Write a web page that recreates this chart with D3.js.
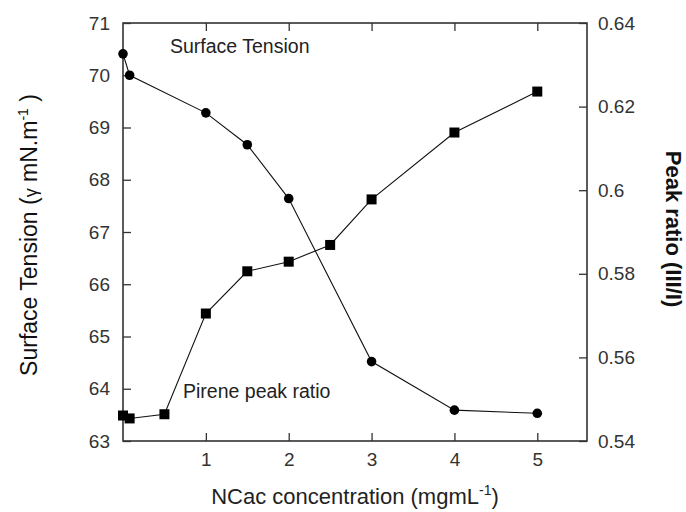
<!DOCTYPE html>
<html>
<head>
<meta charset="utf-8">
<script src="https://cdn.jsdelivr.net/npm/d3@7"></script>
<style>
  html, body { margin: 0; padding: 0; background: #fff; }
  svg { display: block; font-family: "Liberation Sans", Arial, sans-serif; }
</style>
</head>
<body>
<svg id="chart" width="686" height="512"></svg>
<script>
// Data
const tensionX = [0, 0.08, 1, 1.5, 2, 3, 4, 5];
const tensionY = [70.41, 70.0, 69.28, 68.67, 67.64, 64.52, 63.59, 63.53];
const ratioX = [0, 0.08, 0.5, 1, 1.5, 2, 2.5, 3, 4, 5];
const ratioY = [0.5461, 0.5454, 0.5464, 0.5705, 0.5806, 0.5829, 0.5869, 0.5978, 0.6138, 0.6236];
const xTicks = [1, 2, 3, 4, 5];
const leftTicks = [63, 64, 65, 66, 67, 68, 69, 70, 71];
const rightTicks = [0.54, 0.56, 0.58, 0.6, 0.62, 0.64];

const svg = d3.select("#chart");
const L = 123, R = 587, T = 23, B = 441;

const x = d3.scaleLinear().domain([0, 5.6]).range([L, R]);
const yL = d3.scaleLinear().domain([63, 71]).range([B, T]);
const yR = d3.scaleLinear().domain([0.54, 0.64]).range([B, T]);

const axisColor = "#333";
const tickLen = 8;

// bottom axis
const gB = svg.append("g").attr("transform", `translate(0,${B})`)
  .call(d3.axisBottom(x).tickValues(xTicks).tickSize(-tickLen).tickPadding(12).tickFormat(d3.format("d")));
// top axis
const gT = svg.append("g").attr("transform", `translate(0,${T})`)
  .call(d3.axisTop(x).tickValues(xTicks).tickSize(-tickLen).tickFormat(""));
// left axis
const gL = svg.append("g").attr("transform", `translate(${L},0)`)
  .call(d3.axisLeft(yL).tickValues(leftTicks).tickSize(-tickLen).tickPadding(13).tickFormat(d3.format("d")));
// right axis
const gR = svg.append("g").attr("transform", `translate(${R},0)`)
  .call(d3.axisRight(yR).tickValues(rightTicks).tickSize(-tickLen).tickPadding(11).tickFormat(d => d === 0.6 ? "0.6" : d3.format(".2f")(d)));

[gB, gT, gL, gR].forEach(g => {
  g.select(".domain").remove();
  g.selectAll(".tick line").attr("stroke", axisColor).attr("stroke-width", 1.3);
  g.selectAll(".tick text").attr("fill", "#333").style("font-size", "19px")
    .style("font-family", "'Liberation Sans', Arial, sans-serif");
});

// frame
svg.append("rect").attr("x", L).attr("y", T).attr("width", R - L).attr("height", B - T)
  .attr("fill", "none").attr("stroke", axisColor).attr("stroke-width", 1.6);

// lines
const tData = tensionX.map((d, i) => [d, tensionY[i]]);
const rData = ratioX.map((d, i) => [d, ratioY[i]]);

svg.append("path").datum(tData)
  .attr("d", d3.line().x(d => x(d[0])).y(d => yL(d[1])))
  .attr("fill", "none").attr("stroke", "#111").attr("stroke-width", 1.1);
svg.append("path").datum(rData)
  .attr("d", d3.line().x(d => x(d[0])).y(d => yR(d[1])))
  .attr("fill", "none").attr("stroke", "#111").attr("stroke-width", 1.1);

svg.selectAll("circle.t").data(tData).enter().append("circle")
  .attr("cx", d => x(d[0])).attr("cy", d => yL(d[1])).attr("r", 4.8).attr("fill", "#000");
const s = 10;
svg.selectAll("rect.r").data(rData).enter().append("rect")
  .attr("x", d => x(d[0]) - s / 2).attr("y", d => yR(d[1]) - s / 2)
  .attr("width", s).attr("height", s).attr("fill", "#000");

// annotations
svg.append("text").attr("x", 170).attr("y", 53).attr("fill", "#222")
  .style("font-size", "19.5px").text("Surface Tension");
svg.append("text").attr("x", 183).attr("y", 398).attr("fill", "#222")
  .style("font-size", "19.5px").text("Pirene peak ratio");

// axis titles
const xt = svg.append("text").attr("x", 355).attr("y", 504).attr("text-anchor", "middle")
  .attr("fill", "#222").style("font-size", "22px");
xt.append("tspan").text("NCac concentration (mgmL");
xt.append("tspan").attr("dy", -9).style("font-size", "14px").text("-1");
xt.append("tspan").attr("dy", 9).text(")");

const lt = svg.append("text").attr("transform", "translate(37,235) rotate(-90)")
  .attr("text-anchor", "middle").attr("fill", "#111").style("font-size", "23px");
lt.append("tspan").text("Surface Tension (");
lt.append("tspan").text("γ").style("font-size", "18px");
lt.append("tspan").text(" mN.m");
lt.append("tspan").attr("dy", -9).style("font-size", "14px").text("-1");
lt.append("tspan").attr("dy", 9).text(" )");

svg.append("text").attr("transform", "translate(666,229) rotate(90)")
  .attr("text-anchor", "middle").attr("fill", "#111").style("font-size", "22px")
  .style("font-weight", "bold")
  .text("Peak ratio (III/I)");
</script>
</body>
</html>
